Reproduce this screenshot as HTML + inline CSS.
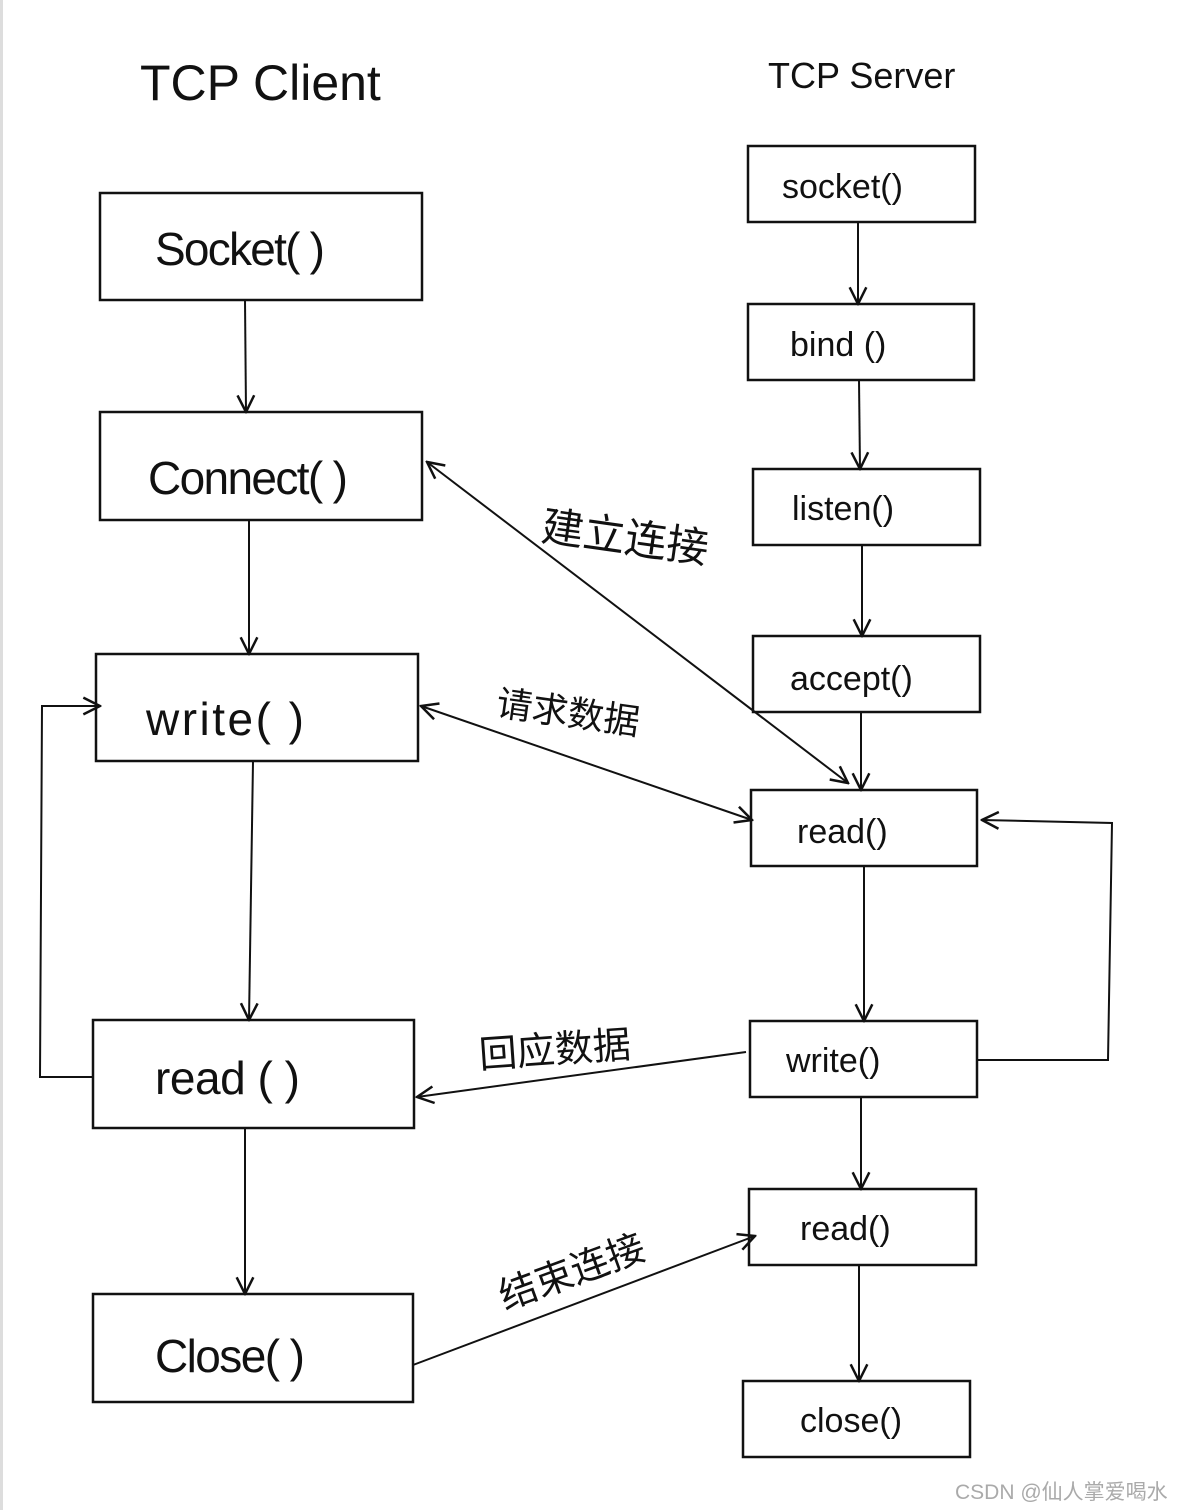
<!DOCTYPE html>
<html><head><meta charset="utf-8"><style>
html,body{margin:0;padding:0;background:#fff}
svg{display:block}
text{font-family:"Liberation Sans","Noto Sans CJK SC",sans-serif;fill:#111}
</style></head><body>
<svg width="1179" height="1510" viewBox="0 0 1179 1510" xmlns="http://www.w3.org/2000/svg">
<defs><marker id="a" viewBox="0 0 12 12" refX="11" refY="6" markerWidth="20" markerHeight="20" orient="auto-start-reverse" markerUnits="userSpaceOnUse"><path d="M1,1 L11,6 L1,11" fill="none" stroke="#111" stroke-width="1.5"/></marker></defs>
<rect x="0" y="0" width="1179" height="1510" fill="#fff"/>
<line x1="1.5" y1="0" x2="1.5" y2="1510" stroke="#ddd" stroke-width="3"/>
<text x="140" y="100" font-size="50">TCP Client</text>
<text x="768" y="88" font-size="36">TCP Server</text>
<g fill="none" stroke="#111" stroke-width="2.5">
<rect x="100" y="193" width="322" height="107"/>
<rect x="100" y="412" width="322" height="108"/>
<rect x="96" y="654" width="322" height="107"/>
<rect x="93" y="1020" width="321" height="108"/>
<rect x="93" y="1294" width="320" height="108"/>
<rect x="748" y="146" width="227" height="76"/>
<rect x="748" y="304" width="226" height="76"/>
<rect x="753" y="469" width="227" height="76"/>
<rect x="753" y="636" width="227" height="76"/>
<rect x="751" y="790" width="226" height="76"/>
<rect x="750" y="1021" width="227" height="76"/>
<rect x="749" y="1189" width="227" height="76"/>
<rect x="743" y="1381" width="227" height="76"/>
</g>
<g fill="none" stroke="#111" stroke-width="2">
<line x1="245" y1="300" x2="246" y2="412" marker-end="url(#a)"/>
<line x1="249" y1="520" x2="249" y2="654" marker-end="url(#a)"/>
<line x1="253" y1="761" x2="249" y2="1020" marker-end="url(#a)"/>
<line x1="245" y1="1128" x2="245" y2="1294" marker-end="url(#a)"/>
<polyline points="93,1077 40,1077 42,706 100,706" marker-end="url(#a)"/>
<line x1="858" y1="222" x2="858" y2="304" marker-end="url(#a)"/>
<line x1="859" y1="380" x2="860" y2="469" marker-end="url(#a)"/>
<line x1="862" y1="545" x2="862" y2="636" marker-end="url(#a)"/>
<line x1="861" y1="712" x2="861" y2="790" marker-end="url(#a)"/>
<line x1="864" y1="866" x2="864" y2="1021" marker-end="url(#a)"/>
<line x1="861" y1="1097" x2="861" y2="1189" marker-end="url(#a)"/>
<line x1="859" y1="1265" x2="859" y2="1381" marker-end="url(#a)"/>
<polyline points="977,1060 1108,1060 1112,823 982,820" marker-end="url(#a)"/>
<line x1="427" y1="462" x2="848" y2="783" marker-start="url(#a)" marker-end="url(#a)"/>
<line x1="421" y1="706" x2="752" y2="820" marker-start="url(#a)" marker-end="url(#a)"/>
<line x1="746" y1="1052" x2="417" y2="1097" marker-end="url(#a)"/>
<line x1="413" y1="1365" x2="755" y2="1236" marker-end="url(#a)"/>
</g>
<g font-size="46">
<text x="155" y="265" textLength="170">Socket( )</text>
<text x="148" y="494" textLength="200">Connect( )</text>
<text x="146" y="735" textLength="158">write( )</text>
<text x="155" y="1094" textLength="145">read ( )</text>
<text x="155" y="1372" textLength="150">Close( )</text>
</g>
<g font-size="34">
<text x="782" y="198">socket()</text>
<text x="790" y="356">bind ()</text>
<text x="792" y="520">listen()</text>
<text x="790" y="690">accept()</text>
<text x="797" y="843">read()</text>
<text x="786" y="1072">write()</text>
<text x="800" y="1240">read()</text>
<text x="800" y="1432">close()</text>
</g>
<g font-size="42">
<text x="540" y="540" transform="rotate(8 540 540)">建立连接</text>
<text x="495" y="715" font-size="36" transform="rotate(8 495 715)">请求数据</text>
<text x="480" y="1068" font-size="38" transform="rotate(-4 480 1068)">回应数据</text>
<text x="505" y="1310" font-size="38" transform="rotate(-20 505 1310)">结束连接</text>
</g>
<text x="955" y="1499" font-size="21" style="fill:#aaa">CSDN @仙人掌爱喝水</text>
</svg>
</body></html>
